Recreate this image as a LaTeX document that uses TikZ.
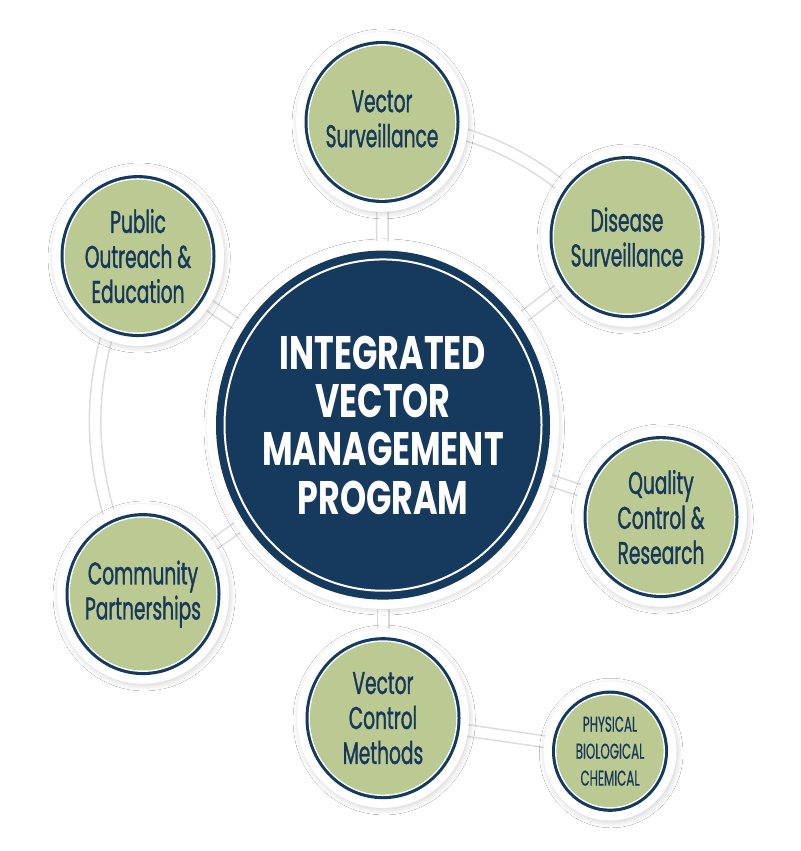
\documentclass[tikz,border=0pt]{standalone}
\usepackage{fontspec}
\newfontfamily\satfont[FakeStretch=0.62,FakeBold=1.1]{Poppins}
\newfontfamily\cenfont[FakeStretch=0.74]{Poppins}
\newfontfamily\phyfont[FakeStretch=0.58,FakeBold=0.5]{Poppins}
\usetikzlibrary{shadows.blur}
\definecolor{ivmnavy}{RGB}{22,57,94}
\definecolor{ivmgreen}{RGB}{187,202,147}
\definecolor{ivmtext}{RGB}{24,56,90}
\pgfdeclarelayer{bg}
\pgfsetlayers{bg,main}
\newcommand\ivmsat[4]{%
  \node[ring, minimum size={2*(#4+8.5)}] (#1) at (#2,#3) {};
  \fill[ivmnavy] (#1.center) circle[radius=#4];
  \fill[white] (#1.center) circle[radius=#4-3];
  \fill[ivmgreen] (#1.center) circle[radius=#4-4.4];
}
\begin{document}
\begin{tikzpicture}[x=1pt,y=-1pt,yscale=1.045,transform shape,
  ring/.style={circle, fill=white, draw=none, inner sep=0pt,
    blur shadow={shadow xshift=1.2pt, shadow yshift=-2pt, shadow blur radius=6pt, shadow opacity=20, shadow scale=0.99, shadow blur steps=12}},
  conn/.style={draw=white, line width=10pt, preaction={draw=black!14, line width=13pt}},
  sattext/.style={align=center, text=ivmtext, inner sep=0pt, font=\satfont\fontsize{30}{33.5}\selectfont},
  centext/.style={align=center, text=white, inner sep=0pt, font=\cenfont\bfseries\fontsize{45}{46.2}\selectfont},
  phytext/.style={align=center, text=ivmtext, inner sep=0pt, font=\phyfont\fontsize{20.5}{25.8}\selectfont}]
\useasboundingbox (0,0) rectangle (800,814.35);
% central circle
\node[ring, minimum size=352pt] (c) at (383,406.7) {};
\fill[ivmnavy] (c.center) circle[radius=167];
\draw[white, line width=2pt] (c.center) circle[radius=158.5];
\node[centext] (ct) at (c.center) {INTEGRATED\\VECTOR\\MANAGEMENT\\PROGRAM};
% satellites
\ivmsat{vs}{382}{116.7}{77.5}
\ivmsat{ds}{627}{226.8}{77.5}
\ivmsat{pub}{138}{245}{77.5}
\ivmsat{ql}{661}{494.7}{77.5}
\ivmsat{com}{143}{568.4}{77.5}
\ivmsat{vc}{383}{687.1}{77.5}
\ivmsat{phy}{610}{718.7}{58}
\node[sattext] (vst) at ([yshift=3pt]vs.center) {Vector\\Surveillance};
\node[sattext] (dst) at (ds.center) {Disease\\Surveillance};
\node[sattext] (pubt) at (pub.center) {Public\\Outreach \&\\Education};
\node[sattext] (qlt) at (ql.center) {Quality\\Control \&\\Research};
\node[sattext] (comt) at (com.center) {Community\\Partnerships};
\node[sattext] (vct) at (vc.center) {Vector\\Control\\Methods};
\node[phytext] (phyt) at (phy.center) {PHYSICAL\\BIOLOGICAL\\CHEMICAL};
% connectors
\begin{pgfonlayer}{bg}
\fill[white] (0,0) rectangle (800,814.35);
\draw[conn] (c.center) -- (vs.center);
\draw[conn] (c.center) -- (ds.center);
\draw[conn] (c.center) -- (pub.center);
\draw[conn] (c.center) -- (ql.center);
\draw[conn] (c.center) -- (com.center);
\draw[conn] (c.center) -- (vc.center);
\draw[conn] (vc.center) -- (phy.center);
\draw[conn] (vs.center) arc[start angle=-90, end angle=-36.4, radius=294];
\draw[conn] (pub.center) .. controls (80,355) and (80,458.4) .. (com.center);
\end{pgfonlayer}
\end{tikzpicture}
\end{document}
